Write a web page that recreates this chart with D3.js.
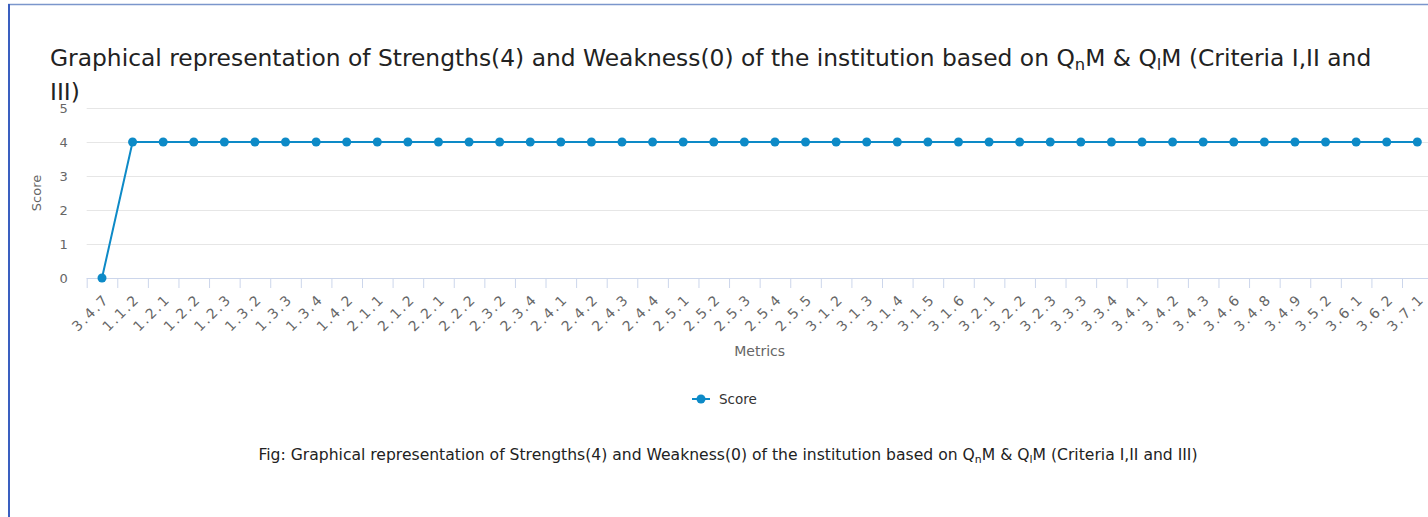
<!DOCTYPE html>
<html>
<head>
<meta charset="utf-8">
<script src="https://cdn.jsdelivr.net/npm/d3@7"></script>
<style>
  body { margin: 0; background: #fff; }
  svg { display: block; font-family: "DejaVu Sans", "Liberation Sans", sans-serif; }
</style>
</head>
<body>
<svg id="chart" width="1428" height="517"></svg>
<script>
// Metrics along the x axis
const metrics = ["3.4.7", "1.1.2", "1.2.1", "1.2.2", "1.2.3", "1.3.2", "1.3.3", "1.3.4", "1.4.2",
    "2.1.1", "2.1.2", "2.2.1", "2.2.2", "2.3.2", "2.3.4", "2.4.1", "2.4.2", "2.4.3", "2.4.4",
    "2.5.1", "2.5.2", "2.5.3", "2.5.4", "2.5.5", "3.1.2", "3.1.3", "3.1.4", "3.1.5", "3.1.6",
    "3.2.1", "3.2.2", "3.2.3", "3.3.3", "3.3.4", "3.4.1", "3.4.2", "3.4.3", "3.4.6", "3.4.8",
    "3.4.9", "3.5.2", "3.6.1", "3.6.2", "3.7.1"];

// Score per metric
const scores = [0, 4, 4, 4, 4, 4, 4, 4, 4, 4, 4, 4, 4, 4, 4, 4, 4, 4, 4, 4, 4, 4,
    4, 4, 4, 4, 4, 4, 4, 4, 4, 4, 4, 4, 4, 4, 4, 4, 4, 4, 4, 4, 4, 4];

const yTicks = [0, 1, 2, 3, 4, 5];

const lineColour = "#0d8ac7";

const svg = d3.select("#chart");

// Frame of the container
svg.append("line").attr("x1", 8).attr("x2", 1428).attr("y1", 4.5).attr("y2", 4.5)
    .attr("stroke", "#7b96cc").attr("stroke-width", 1.5);
svg.append("line").attr("x1", 9).attr("x2", 9).attr("y1", 4).attr("y2", 517)
    .attr("stroke", "#3a5fc0").attr("stroke-width", 2);

// Title (wraps onto a second line)
function addQText(t, start, end) {
    t.append("tspan").text(start);
    t.append("tspan").attr("dy", "0.25em").attr("font-size", "0.7em").text("n");
    t.append("tspan").attr("dy", "-0.175em").text("M & Q");
    t.append("tspan").attr("dy", "0.25em").attr("font-size", "0.7em").text("l");
    t.append("tspan").attr("dy", "-0.175em").text(end);
}

const title = svg.append("text")
    .attr("x", 50).attr("y", 66)
    .attr("fill", "#222")
    .attr("font-size", 20);
addQText(title, "Graphical representation of Strengths(4) and Weakness(0) of the institution based on Q",
    "M (Criteria I,II and");
// fit the first title line to its width in the picture
let tLen = title.node().getComputedTextLength();
title.attr("font-size", 20 * 1322 / tLen);

svg.append("text")
    .attr("x", 50).attr("y", 100)
    .attr("fill", "#222")
    .attr("font-size", 20 * 1322 / tLen)
    .text("III)");

// Plot area
const margin = { left: 86.7, right: 1432.6, top: 108, bottom: 278 };

const xScale = d3.scaleBand()
    .domain(metrics)
    .range([margin.left, margin.right]);

const yScale = d3.scaleLinear()
    .domain([0, 5])
    .range([margin.bottom, margin.top]);

// Grid lines
svg.append("g")
    .selectAll("line")
    .data(yTicks.filter(d => d > 0))
    .join("line")
    .attr("x1", margin.left).attr("x2", 1428)
    .attr("y1", d => yScale(d) + 0.5).attr("y2", d => yScale(d) + 0.5)
    .attr("stroke", "#e6e6e6");

// Y axis labels
const yAxis = d3.axisLeft(yScale).tickValues(yTicks).tickFormat(d3.format("d")).tickSize(0).tickPadding(0);
const yG = svg.append("g")
    .attr("transform", `translate(${margin.left - 19}, 0)`)
    .call(yAxis);
yG.select(".domain").remove();
yG.selectAll("text")
    .attr("fill", "#666")
    .attr("font-size", 13)
    .attr("font-family", "DejaVu Sans, sans-serif");

svg.append("text")
    .attr("transform", `translate(41, 193) rotate(-90)`)
    .attr("text-anchor", "middle")
    .attr("fill", "#666")
    .attr("font-size", 13)
    .text("Score");

// X axis
const xAxis = d3.axisBottom(xScale).tickSize(0).tickPadding(0);
const xG = svg.append("g")
    .attr("transform", `translate(0, ${margin.bottom})`)
    .call(xAxis);
xG.select(".domain")
    .attr("d", `M${margin.left},0.5H1428`)
    .attr("stroke", "#ccd6eb");
xG.selectAll(".tick line").remove();
xG.selectAll("text")
    .attr("fill", "#666")
    .attr("font-size", 14)
    .attr("letter-spacing", 2)
    .attr("font-family", "DejaVu Sans, sans-serif")
    .attr("text-anchor", "end")
    .attr("dy", 0)
    .attr("transform", "translate(8, 22) rotate(-45)");

// tick marks at band edges
svg.append("g")
    .selectAll("line")
    .data(metrics)
    .join("line")
    .attr("x1", d => xScale(d) + 0.5).attr("x2", d => xScale(d) + 0.5)
    .attr("y1", margin.bottom).attr("y2", margin.bottom + 10)
    .attr("stroke", "#ccd6eb");

svg.append("text")
    .attr("x", (margin.left + margin.right) / 2)
    .attr("y", 356)
    .attr("text-anchor", "middle")
    .attr("fill", "#666")
    .attr("font-size", 14)
    .text("Metrics");

// Series
const cx = d => xScale(d) + xScale.bandwidth() / 2;
const line = d3.line()
    .x((d, i) => cx(metrics[i]))
    .y(d => yScale(d));

svg.append("path")
    .datum(scores)
    .attr("d", line)
    .attr("fill", "none")
    .attr("stroke", lineColour)
    .attr("stroke-width", 2);

svg.append("g")
    .selectAll("circle")
    .data(scores)
    .join("circle")
    .attr("cx", (d, i) => cx(metrics[i]))
    .attr("cy", d => yScale(d))
    .attr("r", 4.5)
    .attr("fill", lineColour);

// Legend
const legend = svg.append("g").attr("transform", "translate(692, 399)");
legend.append("line").attr("x1", 0).attr("x2", 18).attr("y1", 0).attr("y2", 0)
    .attr("stroke", lineColour).attr("stroke-width", 2);
legend.append("circle").attr("cx", 9).attr("cy", 0).attr("r", 4.5).attr("fill", lineColour);
legend.append("text").attr("x", 27).attr("y", 5)
    .attr("fill", "#333").attr("font-size", 13.5)
    .text("Score");

// Caption
const caption = svg.append("text")
    .attr("x", 728).attr("y", 460)
    .attr("text-anchor", "middle")
    .attr("fill", "#222")
    .attr("font-size", 13);
addQText(caption, "Fig: Graphical representation of Strengths(4) and Weakness(0) of the institution based on Q",
    "M (Criteria I,II and III)");
let cLen = caption.node().getComputedTextLength();
caption.attr("font-size", 13 * 940 / cLen);
</script>
</body>
</html>
